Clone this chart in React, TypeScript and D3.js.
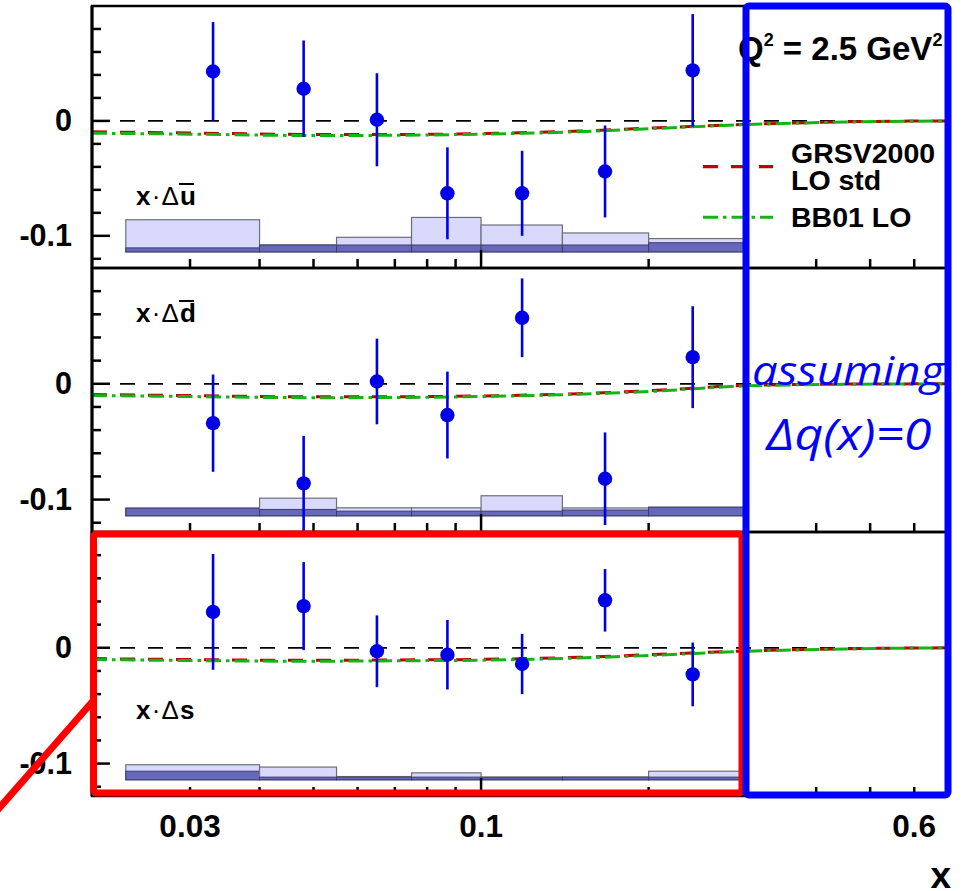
import React from 'react'
import * as d3 from 'd3'

// x positions of the measured points and the bin edges of the systematic bands
const X_POINTS = [0.033, 0.048, 0.065, 0.087, 0.1185, 0.167, 0.24]
const BIN_EDGES = [0.023, 0.04, 0.055, 0.075, 0.1, 0.14, 0.2, 0.3]

// x·Δū
const UBAR_VAL = [0.043, 0.028, 0.001, -0.063, -0.063, -0.044, 0.044]
const UBAR_ERR = [0.043, 0.042, 0.0405, 0.04, 0.037, 0.04, 0.049]
const UBAR_SYS_DARK = [0.0035, 0.006, 0.006, 0.006, 0.006, 0.006, 0.008]
const UBAR_SYS_TOTAL = [0.028, 0.006, 0.0127, 0.03, 0.0234, 0.0165, 0.0116]

// x·Δd̄
const DBAR_VAL = [-0.034, -0.086, 0.002, -0.027, 0.057, -0.082, 0.023]
const DBAR_ERR = [0.042, 0.041, 0.037, 0.0375, 0.034, 0.04, 0.044]
const DBAR_SYS_DARK = [0.0066, 0.0055, 0.004, 0.004, 0.004, 0.005, 0.0074]
const DBAR_SYS_TOTAL = [0.0066, 0.0152, 0.0069, 0.0069, 0.0173, 0.0068, 0.0074]

// x·Δs
const S_VAL = [0.031, 0.036, -0.003, -0.006, -0.014, 0.041, -0.023]
const S_ERR = [0.05, 0.038, 0.031, 0.03, 0.026, 0.027, 0.0275]
const S_SYS_DARK = [0.0074, 0.0023, 0.0023, 0.0023, 0.0018, 0.0023, 0.0023]
const S_SYS_TOTAL = [0.013, 0.011, 0.0028, 0.006, 0.0025, 0.0023, 0.0074]

const SYS_BASE = -0.114

// parametrisations
const CURVE_X = [0.02, 0.03, 0.05, 0.07, 0.1, 0.15, 0.2, 0.3, 0.45, 0.69]
const UBAR_GRSV = [-0.0095, -0.0105, -0.0118, -0.0118, -0.011, -0.0088, -0.0063, -0.003, -0.0008, 0]
const UBAR_BB01 = [-0.0107, -0.0115, -0.0127, -0.0125, -0.0115, -0.0094, -0.0068, -0.0032, -0.001, 0]
const DBAR_GRSV = [-0.0093, -0.0102, -0.0113, -0.0112, -0.0105, -0.0085, -0.006, -0.0014, -0.0003, 0]
const DBAR_BB01 = [-0.0101, -0.011, -0.012, -0.0118, -0.011, -0.009, -0.0067, -0.0018, -0.0005, 0]
const S_GRSV = [-0.0093, -0.0102, -0.0108, -0.0105, -0.01, -0.0082, -0.006, -0.0027, -0.0008, 0]
const S_BB01 = [-0.0101, -0.011, -0.0116, -0.0112, -0.0107, -0.0088, -0.0067, -0.003, -0.001, 0]

const X_MINOR = [0.03, 0.04, 0.05, 0.06, 0.07, 0.08, 0.09, 0.2, 0.3, 0.4, 0.5, 0.6]
const X_MAJOR = [0.1]
const X_LABELS = [0.03, 0.1, 0.6]
const Y_LABELS = [0, -0.1]

const W = 965
const H = 891
const LEFT = 92
const RIGHT = 948
const PANEL_EDGES = [6, 268, 532, 796]
const FONT = "'Liberation Sans', Arial, Helvetica, sans-serif"
const BLUE = '#0000e6'
const RED_LINE = '#c00000'
const GREEN = '#14b414'

const xScale = d3.scaleLog().domain([0.02, 0.69]).range([LEFT, RIGHT])

const panels = [
  { name: 'u', bar: true, val: UBAR_VAL, err: UBAR_ERR, dark: UBAR_SYS_DARK, total: UBAR_SYS_TOTAL, grsv: UBAR_GRSV, bb01: UBAR_BB01, labelY: 205 },
  { name: 'd', bar: true, val: DBAR_VAL, err: DBAR_ERR, dark: DBAR_SYS_DARK, total: DBAR_SYS_TOTAL, grsv: DBAR_GRSV, bb01: DBAR_BB01, labelY: 322 },
  { name: 's', bar: false, val: S_VAL, err: S_ERR, dark: S_SYS_DARK, total: S_SYS_TOTAL, grsv: S_GRSV, bb01: S_BB01, labelY: 719 },
]

const Panel = ({ p, i }: any) => {
  const top = PANEL_EDGES[i]
  const bottom = PANEL_EDGES[i + 1]
  const y = d3.scaleLinear().domain([-0.128, 0.1]).range([bottom, top])
  const line = d3.line<number>()
    .x((d, k) => xScale(CURVE_X[k]))
    .y(d => y(d))
    .curve(d3.curveMonotoneX)
  const yTicks = d3.range(-12, 11, 2).map(v => v / 100).filter(v => y(v) > top + 1 && y(v) < bottom - 1)
  const clipId = `clip${i}`
  const lx = 136
  return (
    <g>
      <defs>
        <clipPath id={clipId}>
          <rect x={LEFT} y={top} width={RIGHT - LEFT} height={bottom - top} />
        </clipPath>
      </defs>
      <g clipPath={`url(#${clipId})`}>
        {BIN_EDGES.slice(0, -1).map((x0, k) => (
          <g key={k}>
            <rect x={xScale(x0)} width={xScale(BIN_EDGES[k + 1]) - xScale(x0)}
              y={y(SYS_BASE + p.total[k])} height={y(SYS_BASE) - y(SYS_BASE + p.total[k])}
              fill="#d9d9fb" stroke="#6e6e78" strokeWidth={1.2} />
            <rect x={xScale(x0)} width={xScale(BIN_EDGES[k + 1]) - xScale(x0)}
              y={y(SYS_BASE + p.dark[k])} height={y(SYS_BASE) - y(SYS_BASE + p.dark[k])}
              fill="#6767bb" stroke="#3c3c6e" strokeWidth={1} />
          </g>
        ))}
        <line x1={LEFT} x2={RIGHT} y1={y(0)} y2={y(0)} stroke="#000" strokeWidth={1.8} strokeDasharray="15 13" />
        <path d={line(p.grsv) || ''} fill="none" stroke={RED_LINE} strokeWidth={3} strokeDasharray="15 13" />
        <path d={line(p.bb01) || ''} fill="none" stroke={GREEN} strokeWidth={3} strokeDasharray="15 5 3.5 5" />
        {X_POINTS.map((xv, k) => (
          <g key={k}>
            <line x1={xScale(xv)} x2={xScale(xv)} y1={y(p.val[k] - p.err[k])} y2={y(p.val[k] + p.err[k])} stroke={BLUE} strokeWidth={2.6} />
            <circle cx={xScale(xv)} cy={y(p.val[k])} r={7.2} fill={BLUE} />
          </g>
        ))}
      </g>
      {/* frame and ticks */}
      <rect x={LEFT} y={top} width={RIGHT - LEFT} height={bottom - top} fill="none" stroke="#000" strokeWidth={2.5} />
      <line x1={LEFT} x2={LEFT} y1={top} y2={bottom} stroke="#000" strokeWidth={3} />
      {yTicks.map(v => {
        const major = Math.abs(v * 10 - Math.round(v * 10)) < 1e-6
        return <line key={v} x1={LEFT} x2={LEFT + (major ? 18 : 9)} y1={y(v)} y2={y(v)} stroke="#000" strokeWidth={2.5} />
      })}
      {X_MINOR.map(v => <line key={v} x1={xScale(v)} x2={xScale(v)} y1={bottom} y2={bottom - 9} stroke="#000" strokeWidth={2.5} />)}
      {X_MAJOR.map(v => <line key={v} x1={xScale(v)} x2={xScale(v)} y1={bottom} y2={bottom - 18} stroke="#000" strokeWidth={2.5} />)}
      {Y_LABELS.map(v => (
        <text key={v} x={72} y={y(v) + 10.5} textAnchor="end" fontFamily={FONT} fontWeight="bold" fontSize={30.5}>{v === 0 ? '0' : '-0.1'}</text>
      ))}
      <text x={lx} y={p.labelY} fontFamily={FONT} fontWeight="bold" fontSize={26} letterSpacing={1.2}>
        x<tspan fontWeight="normal">·Δ</tspan>{p.name}
      </text>
      {p.bar && <line x1={lx + 43} x2={lx + 58} y1={p.labelY - 21} y2={p.labelY - 21} stroke="#000" strokeWidth={2} />}
    </g>
  )
}

export default function App() {
  const legendX0 = 703
  const legendX1 = 773
  return (
    <svg width={W} height={H} style={{ position: 'absolute', left: 0, top: 0, background: '#fff' }}>
      <rect width={W} height={H} fill="#fff" />
      {panels.map((p, i) => <Panel key={i} p={p} i={i} />)}

      {X_LABELS.map(v => (
        <text key={v} x={xScale(v)} y={836.5} textAnchor="middle" fontFamily={FONT} fontWeight="bold" fontSize={31.5}>{String(v)}</text>
      ))}
      <text x={951} y={888} textAnchor="end" fontFamily={FONT} fontWeight="bold" fontSize={37}>x</text>

      <text x={738} y={60} fontFamily={FONT} fontWeight="bold" fontSize={33}>
        Q<tspan fontSize={18} dy={-14}>2</tspan><tspan dy={14}> = 2.5 GeV</tspan><tspan fontSize={18} dy={-14}>2</tspan>
      </text>

      <line x1={legendX0} x2={legendX1} y1={166.7} y2={166.7} stroke={RED_LINE} strokeWidth={3.3} strokeDasharray="15 13" />
      <line x1={legendX0} x2={legendX1} y1={217.3} y2={217.3} stroke={GREEN} strokeWidth={3} strokeDasharray="15 5 3.5 5" />
      <text x={791} y={163} fontFamily={FONT} fontWeight="bold" fontSize={28.5}>GRSV2000</text>
      <text x={791} y={190} fontFamily={FONT} fontWeight="bold" fontSize={28.5}>LO std</text>
      <text x={791} y={227} fontFamily={FONT} fontWeight="bold" fontSize={28.5}>BB01 LO</text>

      <text x={848} y={385} textAnchor="middle" fontFamily="'Open Sans', 'Noto Sans', sans-serif" fontStyle="italic" fontSize={40} fill="#0000ff" textLength={192} lengthAdjust="spacingAndGlyphs">assuming</text>
      <text x={849} y={450} textAnchor="middle" fontFamily="'Open Sans', 'Noto Sans', sans-serif" fontStyle="italic" fontSize={44} fill="#0000ff" textLength={165} lengthAdjust="spacingAndGlyphs">Δq(x)=0</text>

      <line x1={93} x2={-20} y1={701} y2={830} stroke="#ff0000" strokeWidth={7} />
      <rect x={93.5} y={534} width={648.5} height={259} rx={3} fill="none" stroke="#ff0000" strokeWidth={7} />
      <rect x={746} y={6} width={202} height={789} rx={3} fill="none" stroke="#0000ff" strokeWidth={7} />
    </svg>
  )
}
